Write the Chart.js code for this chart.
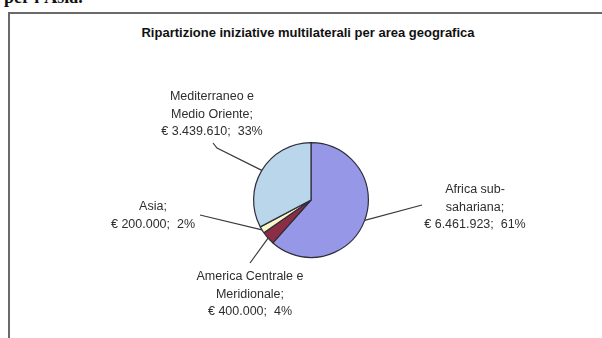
<!DOCTYPE html>
<html lang="it">
<head>
<meta charset="utf-8">
<title>Ripartizione iniziative multilaterali per area geografica</title>
<script src="https://cdn.jsdelivr.net/npm/chart.js@4.4.1/dist/chart.umd.min.js"></script>
<style>
  html, body { margin: 0; padding: 0; background: #fff; overflow: hidden; }
  #wrap { position: relative; width: 602px; height: 338px; overflow: hidden; background: #fff; }
  #prev { position: absolute; left: 4px; top: -12px; font: bold 18px "Liberation Serif", "DejaVu Serif", serif; color: #111; white-space: nowrap; line-height: 18px; }
  #frame { position: absolute; left: 8px; top: 12px; width: 620px; height: 360px; border-left: 2px solid #6a6a6a; border-top: 2px solid #6a6a6a; box-sizing: border-box; }
  #title { position: absolute; left: 0; width: 616px; top: 25px; text-align: center; font: bold 13px "Liberation Sans", Arial, sans-serif; color: #111; white-space: nowrap; }
  canvas { position: absolute; left: 0; top: 0; }
</style>
</head>
<body>
<div id="wrap">
  <div id="prev">per l'Asia.</div>
  <div id="frame"></div>
  <div id="title">Ripartizione iniziative multilaterali per area geografica</div>
  <canvas id="c" width="602" height="338"></canvas>
</div>
<script>
// Aree geografiche e importi delle iniziative multilaterali (euro)
const categories = ["Africa sub-sahariana", "America Centrale e Meridionale", "Asia", "Mediterraneo e Medio Oriente"];
const amounts = [6461923, 400000, 200000, 3439610];
const percents = [61, 4, 2, 33];
// Righe di testo delle etichette (nome dell'area spezzato come nel grafico)
const labelNames = [
  ["Africa sub-", "sahariana;"],
  ["America Centrale e", "Meridionale;"],
  ["Asia;"],
  ["Mediterraneo e", "Medio Oriente;"]
];
const sliceColors = ["#9797e8", "#8a2d45", "#fbf7c8", "#bad6ea"];

// Posizione delle etichette rispetto al centro della torta (px)
const labelLayout = [
  { dx: 164, dy: -10, line: [[111, 5]] },
  { dx: -61, dy: 77, line: [[-61, 63]] },
  { dx: -158, dy: 7, line: [[-111, 15]] },
  { dx: -99, dy: -103, line: [[-94, -52], [-98, -57]] }
];
const lineHeight = 17.5;

function euro(v) {
  return "\u20AC " + String(v).replace(/\B(?=(\d{3})+(?!\d))/g, ".");
}

const leaderLabels = {
  id: "leaderLabels",
  afterDatasetsDraw(chart) {
    const ctx = chart.ctx;
    const meta = chart.getDatasetMeta(0);
    ctx.save();
    meta.data.forEach((arc, i) => {
      const p = arc.getProps(["x", "y", "startAngle", "endAngle", "outerRadius"], true);
      const mid = (p.startAngle + p.endAngle) / 2;
      const ex = p.x + Math.cos(mid) * p.outerRadius;
      const ey = p.y + Math.sin(mid) * p.outerRadius;
      const L = labelLayout[i];
      ctx.beginPath();
      ctx.moveTo(ex, ey);
      L.line.forEach(pt => ctx.lineTo(p.x + pt[0], p.y + pt[1]));
      ctx.strokeStyle = "#3a3a3a";
      ctx.lineWidth = 1.2;
      ctx.stroke();

      const lines = labelNames[i].concat([euro(amounts[i]) + ";  " + percents[i] + "%"]);
      ctx.fillStyle = "#2e2e2e";
      ctx.font = "12.5px 'Liberation Sans', Arial, sans-serif";
      ctx.textAlign = "center";
      ctx.textBaseline = "middle";
      lines.forEach((t, k) => ctx.fillText(t, p.x + L.dx, p.y + L.dy + k * lineHeight));
    });
    ctx.restore();
  }
};

new Chart(document.getElementById("c"), {
  type: "pie",
  data: {
    labels: categories,
    datasets: [{
      data: amounts,
      backgroundColor: sliceColors,
      borderColor: "#2e2e3a",
      borderWidth: 1.2
    }]
  },
  options: {
    responsive: false,
    animation: false,
    devicePixelRatio: 1,
    layout: { padding: { left: 253, right: 233, top: 142, bottom: 80 } },
    plugins: {
      legend: { display: false },
      tooltip: { enabled: false },
      title: { display: false }
    }
  },
  plugins: [leaderLabels]
});
</script>
</body>
</html>
